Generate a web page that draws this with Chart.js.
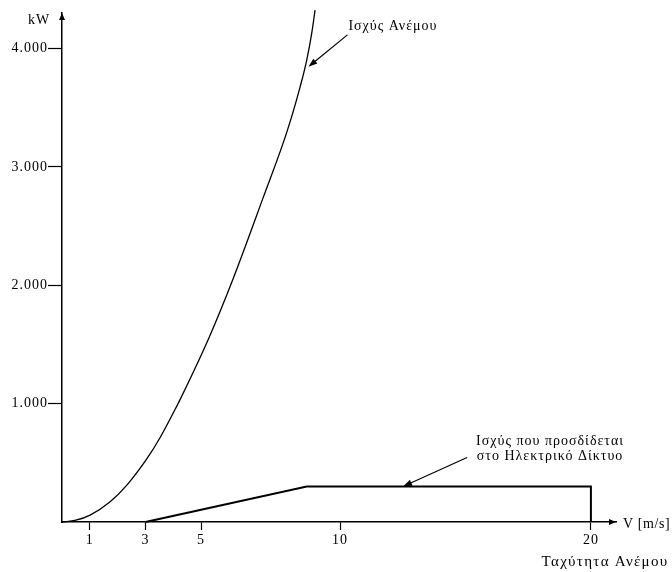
<!DOCTYPE html>
<html>
<head>
<meta charset="utf-8">
<title>Ισχύς Ανέμου</title>
<script src="https://cdn.jsdelivr.net/npm/chart.js@4.4.1/dist/chart.umd.min.js"></script>
<style>
  html, body { margin: 0; padding: 0; background: #fff; }
  canvas { display: block; }
</style>
</head>
<body>
<canvas id="chart" width="672" height="572"></canvas>
<script>
// Wind power curve: speed [m/s] and power [kW]
const windSpeed = [0, 0.5, 1.01, 1.73, 2.34, 3.06, 3.53, 3.99, 4.32, 5.29, 6.15, 7.23, 8.09, 8.56, 8.80, 8.98, 9.10];
const windPower = [0, 15, 58, 171, 314, 537, 714, 916, 1070, 1559, 2053, 2738, 3298, 3674, 3902, 4130, 4324];

// Power delivered to the grid: cut-in 3 m/s, rated ~8.8 m/s, cut-out 20 m/s
const gridSpeed = [3, 8.8, 20, 20];
const gridPower = [0, 300, 300, 0];

// Axis ticks
const xTickValues = [1, 3, 5, 10, 20];
const xTickLabels = ['1', '3', '5', '10', '20'];
const yTickValues = [1000, 2000, 3000, 4000];
const yTickLabels = ['1.000', '2.000', '3.000', '4.000'];

// Texts
const yUnit = 'kW';
const xUnit = 'V [m/s]';
const xTitle = 'Ταχύτητα Ανέμου';
const windLabel = 'Ισχύς Ανέμου';
const gridLabel = ['Ισχύς που προσδίδεται', 'στο Ηλεκτρικό Δίκτυο'];

// The speed axis is drawn compressed beyond 10 m/s: piecewise linear mapping
const xBreakValues = [0, 10, 20, 21];
const xBreakFractions = [0, 0.502, 0.9547, 1];

class BrokenLinearScale extends Chart.LinearScale {
  static id = 'brokenLinear';
  static defaults = Chart.LinearScale.defaults;

  valueToDecimal(value) {
    const v = xBreakValues, f = xBreakFractions;
    let i = 0;
    while (i < v.length - 2 && value > v[i + 1]) i++;
    return f[i] + (value - v[i]) / (v[i + 1] - v[i]) * (f[i + 1] - f[i]);
  }
  decimalToValue(d) {
    const v = xBreakValues, f = xBreakFractions;
    let i = 0;
    while (i < f.length - 2 && d > f[i + 1]) i++;
    return v[i] + (d - f[i]) / (f[i + 1] - f[i]) * (v[i + 1] - v[i]);
  }
  getPixelForValue(value) {
    if (value === null || value === undefined || isNaN(value)) return NaN;
    return this.getPixelForDecimal(this.valueToDecimal(value));
  }
  getValueForPixel(pixel) {
    return this.decimalToValue(this.getDecimalForPixel(pixel));
  }
}
Chart.register(BrokenLinearScale);

const FONT = 'Liberation Serif';

function arrowHead(ctx, tx, ty, dx, dy, len, half) {
  const n = Math.hypot(dx, dy); dx /= n; dy /= n;
  const bx = tx - dx * len, by = ty - dy * len;
  ctx.beginPath();
  ctx.moveTo(tx, ty);
  ctx.lineTo(bx - dy * half, by + dx * half);
  ctx.lineTo(bx + dy * half, by - dx * half);
  ctx.closePath();
  ctx.fill();
}

function pointer(ctx, fromX, fromY, toX, toY) {
  const dx = toX - fromX, dy = toY - fromY, n = Math.hypot(dx, dy);
  const len = 9;
  ctx.beginPath();
  ctx.moveTo(fromX, fromY);
  ctx.lineTo(toX - dx / n * len * 0.8, toY - dy / n * len * 0.8);
  ctx.stroke();
  arrowHead(ctx, toX, toY, dx, dy, len, 3.2);
}

const decorations = {
  id: 'decorations',
  beforeDraw(chart) {
    chart.ctx.letterSpacing = '1px';
  },
  afterDraw(chart) {
    const { ctx, chartArea: a, scales: { x, y } } = chart;
    ctx.save();
    ctx.letterSpacing = '1px';
    ctx.fillStyle = '#000';
    ctx.strokeStyle = '#000';
    ctx.lineWidth = 1.2;

    // axis arrowheads
    arrowHead(ctx, a.left, a.top, 0, -1, 7, 3);
    arrowHead(ctx, a.right, a.bottom, 1, 0, 7, 3);

    // axis texts
    ctx.font = `14px "${FONT}"`;
    ctx.textBaseline = 'middle';
    ctx.textAlign = 'left';
    ctx.fillText(yUnit, 28, 20);
    ctx.letterSpacing = '0.6px';
    ctx.fillText(xUnit, a.right + 7, a.bottom + 2);
    ctx.font = `15px "${FONT}"`;
    ctx.letterSpacing = '1.3px';
    ctx.textAlign = 'center';
    ctx.fillText(xTitle, 605, a.bottom + 40);

    // wind power annotation
    ctx.font = `14px "${FONT}"`;
    ctx.letterSpacing = '1px';
    const t1x = x.getPixelForValue(8.86), t1y = y.getPixelForValue(3845);
    const f1x = t1x + 39, f1y = t1y - 32;
    pointer(ctx, f1x, f1y, t1x, t1y);
    ctx.textAlign = 'left';
    ctx.fillText(windLabel, f1x + 1, f1y - 9);

    // grid power annotation
    const t2x = x.getPixelForValue(12.51), t2y = y.getPixelForValue(300);
    const f2x = t2x + 64, f2y = t2y - 29;
    pointer(ctx, f2x, f2y, t2x, t2y);
    ctx.textAlign = 'center';
    ctx.fillText(gridLabel[0], f2x + 83, f2y - 16);
    ctx.fillText(gridLabel[1], f2x + 83, f2y - 1);

    ctx.restore();
  }
};

new Chart(document.getElementById('chart'), {
  type: 'line',
  data: {
    datasets: [
      {
        label: windLabel,
        data: windSpeed.map((v, i) => ({ x: v, y: windPower[i] })),
        borderColor: '#000',
        borderWidth: 1.3,
        pointRadius: 0,
        cubicInterpolationMode: 'monotone',
        fill: false,
        clip: false
      },
      {
        label: gridLabel.join(' '),
        data: gridSpeed.map((v, i) => ({ x: v, y: gridPower[i] })),
        borderColor: '#000',
        borderWidth: 2,
        pointRadius: 0,
        tension: 0,
        fill: false,
        clip: false
      }
    ]
  },
  options: {
    responsive: false,
    animation: false,
    events: [],
    layout: { padding: { left: 0, right: 56, top: 13, bottom: 0 } },
    plugins: { legend: { display: false }, tooltip: { enabled: false } },
    scales: {
      x: {
        type: 'brokenLinear',
        min: 0,
        max: 21,
        afterFit(scale) { scale.height = 50; },
        afterBuildTicks(scale) { scale.ticks = xTickValues.map(v => ({ value: v })); },
        border: { display: true, color: '#000', width: 1.5 },
        grid: { display: true, drawOnChartArea: false, drawTicks: true, tickLength: 8, tickColor: '#000', tickWidth: 1.2 },
        ticks: {
          autoSkip: false,
          maxRotation: 0,
          padding: 2,
          color: '#000',
          font: { family: FONT, size: 14 },
          callback: (value, index) => xTickLabels[index]
        }
      },
      y: {
        type: 'linear',
        min: 0,
        max: 4300,
        afterFit(scale) { scale.width = 62; },
        afterBuildTicks(scale) { scale.ticks = yTickValues.map(v => ({ value: v })); },
        border: { display: true, color: '#000', width: 1.5 },
        grid: { display: true, drawOnChartArea: false, drawTicks: true, tickLength: 14, tickColor: '#000', tickWidth: 1.2 },
        ticks: {
          autoSkip: false,
          padding: 0,
          color: '#000',
          font: { family: FONT, size: 14 },
          callback: (value, index) => yTickLabels[index]
        }
      }
    }
  },
  plugins: [decorations]
});
</script>
</body>
</html>
